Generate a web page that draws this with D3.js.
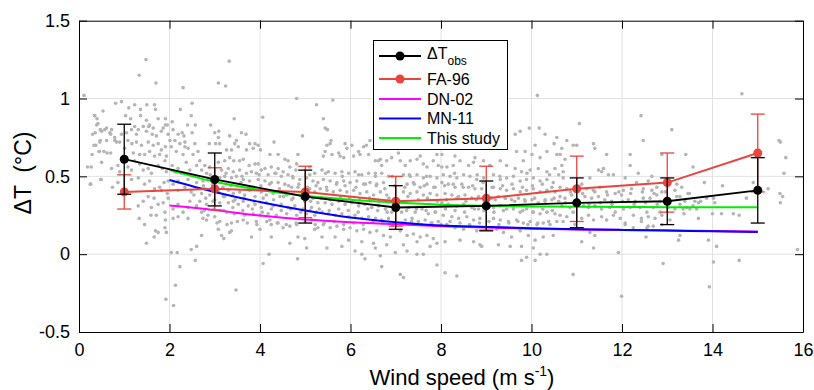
<!DOCTYPE html>
<html>
<head>
<meta charset="utf-8">
<script src="https://d3js.org/d3.v7.min.js"></script>
<style>
body { margin:0; background:#fff; }
text { font-family: "Liberation Sans", Arial, Helvetica, sans-serif; }
</style>
</head>
<body>
<svg id="mainSVG" width="814" height="390"></svg>
<script>

// bin centres and observed / FA-96 values with error bars
var windBins = [1, 3, 5, 7, 9, 11, 13, 15];
var obsDT   = [0.61, 0.48, 0.37, 0.30, 0.31, 0.33, 0.34, 0.41];
var obsErr  = [0.225, 0.17, 0.17, 0.14, 0.16, 0.16, 0.15, 0.21];
var fa96DT  = [0.40, 0.42, 0.40, 0.34, 0.36, 0.42, 0.46, 0.65];
var fa96Err = [0.11, 0.135, 0.165, 0.16, 0.205, 0.21, 0.19, 0.25];

// model curves
var modelWind   = [2, 3, 4, 5, 6, 7, 8, 9, 10, 11, 12, 13, 14, 15];
var dn02DT      = [0.312, 0.283, 0.248, 0.222, 0.205, 0.193, 0.180, 0.171, 0.164, 0.159, 0.155, 0.152, 0.149, 0.146];
var mn11DT      = [0.477, 0.400, 0.335, 0.280, 0.235, 0.205, 0.184, 0.175, 0.167, 0.160, 0.156, 0.152, 0.147, 0.143];
var thisStudyDT = [0.540, 0.465, 0.413, 0.375, 0.350, 0.332, 0.318, 0.311, 0.307, 0.305, 0.303, 0.302, 0.302, 0.302];

var xTicks = [0, 2, 4, 6, 8, 10, 12, 14, 16];
var yTicks = [-0.5, 0, 0.5, 1, 1.5];

var cloudA = [[1.48,1.25],[1.33,1.15],[1.70,1.10],[2.30,1.07],[0.11,1.02],[0.81,0.97],[0.94,0.98],[1.10,0.94],[1.23,0.96],[1.36,0.93],[1.50,0.96],[1.67,0.96],[1.69,0.93],[2.24,0.93],[2.50,0.97],
[0.35,0.89],[0.40,0.87],[0.53,0.92],[1.03,0.89],[1.14,0.87],[1.36,0.89],[1.49,0.86],[1.56,0.83],[1.75,0.87],[1.91,0.87],[1.95,0.83],[2.06,0.85],[2.40,0.83],[2.57,0.83],[2.48,0.89],
[0.42,0.84],[0.36,0.78],[0.50,0.79],[0.61,0.81],[0.72,0.80],[0.70,0.77],[0.79,0.75],[0.83,0.72],[0.94,0.77],[1.05,0.78],[1.16,0.80],[1.23,0.82],[1.31,0.80],[1.27,0.77],[1.42,0.82],[1.49,0.79],[1.54,0.82],[1.64,0.81],[1.62,0.77],[1.71,0.76],[1.82,0.79],[1.86,0.81],[1.91,0.83],[1.97,0.77],[2.08,0.80],[2.19,0.77],[2.28,0.78],[2.32,0.76],[2.12,0.73],[2.01,0.73],[2.34,0.72],[2.50,0.78],[2.56,0.71],
[0.33,0.70],[0.46,0.72],[0.61,0.73],[0.79,0.73],[0.90,0.72],[1.08,0.73],[1.17,0.71],[1.27,0.72],[1.38,0.70],[1.53,0.72],[1.64,0.70],[1.75,0.71],[1.82,0.67],[1.91,0.69],[2.04,0.69],[2.15,0.66],[2.23,0.71],[2.34,0.69],[2.30,0.64],[2.41,0.68],[2.52,0.64],[2.63,0.66],
[0.29,0.64],[0.44,0.66],[0.55,0.66],[0.70,0.65],[1.01,0.68],[1.20,0.65],[1.34,0.64],[1.45,0.64],[1.56,0.66],[1.67,0.63],[1.78,0.64],[1.93,0.63],
[0.19,0.56],[0.27,0.56],[0.50,0.59],[0.72,0.55],[0.86,0.57],[0.90,0.53],[1.08,0.56],[1.16,0.54],[1.34,0.58],[1.42,0.54],[1.53,0.55],[1.60,0.52],[1.75,0.57],[1.84,0.55],[1.93,0.53],[2.06,0.57],[2.19,0.55],[2.26,0.52],[2.37,0.59],[2.45,0.54],[2.60,0.57],[2.12,0.53],[1.90,0.60],[1.23,0.60],
[0.26,0.45],[0.48,0.48],[0.74,0.43],[0.86,0.46],[1.16,0.48],[1.31,0.49],[1.45,0.45],[1.56,0.47],[1.67,0.42],[1.78,0.43],[1.88,0.46],[1.97,0.47],[2.08,0.45],[2.19,0.41],[2.34,0.43],[2.48,0.40],[2.60,0.46],[2.19,0.47],[2.41,0.48],[1.82,0.41],[1.95,0.39],
[1.31,0.31],[1.42,0.34],[1.53,0.37],[1.66,0.36],[1.75,0.32],[1.86,0.33],[1.97,0.36],[2.08,0.29],[2.19,0.32],[2.30,0.27],[2.45,0.34],[2.54,0.38],[2.41,0.30],[2.60,0.31],[1.60,0.30],[1.90,0.27],
[1.33,0.23],[1.45,0.19],[1.59,0.25],[1.71,0.25],[1.91,0.22],[2.08,0.23],[2.19,0.24],[2.41,0.23],[1.90,0.17],[1.93,0.14],[1.75,0.14],[1.66,0.11],[1.69,0.15],[1.49,0.07],[2.60,0.05],[2.48,0.03],[2.04,0.01],[2.17,0.01],[2.57,-0.04],[2.23,-0.08],[2.13,-0.20],[1.92,-0.29],[2.09,-0.33],
[0.34,0.89],[0.39,0.83],[0.47,0.80],[0.37,0.70],[0.47,0.73],[0.45,0.66],[0.49,0.48],[0.62,0.65],[0.57,0.80],[0.25,0.45],[0.68,0.78],[0.30,0.77]];

var cloudB = [[3.32,1.24],[3.08,1.10],[3.24,1.08],[4.81,1.00],[5.25,0.96],[4.06,0.88],[3.43,0.87],[2.91,0.83],[3.00,0.78],[3.09,0.79],[3.08,0.75],[3.59,0.78],[3.69,0.77],[3.33,0.76],[3.48,0.73],[3.44,0.71],[2.88,0.71],[3.02,0.71],[3.11,0.71],[3.77,0.71],[3.89,0.71],[3.96,0.70],[4.31,0.72],
[3.26,0.67],[3.37,0.67],[3.52,0.69],[3.70,0.67],[3.85,0.68],[4.01,0.67],[4.22,0.64],[4.40,0.64],[4.55,0.61],[4.62,0.60],[4.84,0.64],[4.94,0.76],[4.81,0.58],
[2.67,0.60],[2.78,0.57],[2.89,0.56],[3.08,0.59],[3.22,0.60],[3.33,0.62],[3.42,0.60],[3.55,0.60],[3.63,0.61],[3.76,0.57],[3.89,0.58],[3.96,0.58],[4.11,0.55],[4.25,0.56],[4.40,0.55],[4.51,0.53],[4.66,0.56],[4.79,0.54],[5.21,0.52],[5.10,0.56],
[2.71,0.54],[2.82,0.52],[3.15,0.54],[3.30,0.55],[3.41,0.53],[3.55,0.54],[3.70,0.52],[3.81,0.53],[3.92,0.52],[4.03,0.54],[4.18,0.51],[4.33,0.52],[4.47,0.50],[4.62,0.51],[4.73,0.49],[4.88,0.48],[5.03,0.49],[5.17,0.47],[5.28,0.46],
[2.74,0.47],[2.85,0.48],[3.11,0.49],[3.22,0.50],[3.37,0.49],[3.48,0.50],[3.63,0.48],[3.77,0.47],[3.96,0.48],[4.11,0.47],[4.25,0.46],[4.40,0.46],[4.55,0.45],[4.70,0.43],[4.84,0.43],[5.10,0.42],[5.21,0.40],
[2.78,0.42],[2.71,0.39],[2.89,0.38],[3.08,0.40],[3.19,0.37],[3.30,0.41],[3.41,0.39],[3.55,0.40],[3.66,0.38],[3.77,0.41],[3.89,0.37],[4.03,0.40],[4.14,0.38],[4.29,0.39],[4.44,0.37],[4.59,0.38],[4.73,0.36],[4.88,0.38],[4.99,0.34],[5.17,0.36],[5.28,0.33],
[2.67,0.34],[2.82,0.32],[2.96,0.34],[3.11,0.33],[3.30,0.33],[3.41,0.34],[3.52,0.32],[3.63,0.34],[3.74,0.31],[3.89,0.32],[4.03,0.30],[4.14,0.33],[4.29,0.31],[4.47,0.32],[4.62,0.30],[4.77,0.31],[4.95,0.29],[5.14,0.30],[5.25,0.27],
[2.71,0.27],[2.85,0.25],[3.00,0.24],[3.26,0.27],[3.44,0.26],[3.66,0.25],[3.85,0.26],[4.00,0.25],[4.18,0.26],[4.36,0.25],[4.59,0.26],[4.81,0.25],[5.03,0.26],[5.21,0.25],
[2.74,0.23],[2.82,0.22],[3.11,0.21],[3.37,0.20],[3.63,0.22],[3.92,0.21],[4.22,0.22],[4.25,0.19],[4.40,0.20],[4.51,0.17],[4.66,0.18],[4.81,0.19],[5.14,0.22],[5.21,0.16],[5.28,0.17],
[3.08,0.16],[3.15,0.12],[3.20,0.10],[3.37,0.15],[3.33,0.14],[3.81,0.11],[4.00,0.16],[4.25,0.11],[4.66,0.07],[4.84,0.11],[4.99,0.10],[5.03,0.04],[2.71,0.12],[4.20,0.00],[4.07,-0.06],[4.83,-0.03],[3.47,-0.23]];

var cloudC = [[5.61,0.99],[5.40,0.87],[5.44,0.81],[5.49,0.80],[5.57,0.73],[5.55,0.71],[5.48,0.70],[5.44,0.66],[5.40,0.63],[5.59,0.64],[5.74,0.65],[5.77,0.63],[5.85,0.62],[5.88,0.71],[5.92,0.68],[6.03,0.70],[6.07,0.63],[6.18,0.66],[6.21,0.64],[6.29,0.69],[6.35,0.70],[6.40,0.64],[6.43,0.73],
[6.55,0.60],[6.62,0.60],[6.66,0.61],[6.69,0.57],[6.80,0.60],[6.91,0.62],[7.06,0.65],[7.10,0.60],[7.21,0.57],[7.32,0.60],[7.47,0.61],[7.54,0.63],[7.61,0.58],[7.69,0.56],[7.83,0.60],[7.94,0.57],[7.91,0.64],
[5.37,0.54],[5.51,0.53],[5.66,0.52],[5.81,0.53],[5.96,0.52],[6.10,0.53],[6.25,0.51],[6.40,0.52],[6.55,0.50],[6.69,0.52],[6.84,0.50],[7.17,0.51],[7.32,0.50],[7.47,0.51],[7.61,0.49],[7.76,0.50],[7.91,0.49],
[5.40,0.48],[5.55,0.47],[5.70,0.46],[5.85,0.47],[5.99,0.46],[6.14,0.47],[6.29,0.45],[6.43,0.46],[6.58,0.45],[6.73,0.46],[7.25,0.45],[7.39,0.46],[7.54,0.43],[7.69,0.45],[7.87,0.43],
[5.33,0.42],[5.48,0.41],[5.62,0.40],[5.77,0.41],[5.92,0.40],[6.07,0.41],[6.21,0.39],[6.36,0.40],[6.51,0.38],[6.66,0.40],[6.80,0.38],[7.17,0.40],[7.32,0.39],[7.47,0.40],[7.61,0.38],[7.76,0.39],[7.91,0.38],
[5.44,0.33],[5.59,0.32],[5.74,0.34],[5.88,0.32],[6.03,0.33],[6.18,0.31],[6.32,0.32],[6.47,0.30],[6.62,0.31],[6.77,0.29],[6.91,0.27],[7.13,0.27],[7.28,0.30],[7.43,0.27],[7.58,0.29],[7.72,0.26],[7.87,0.27],
[5.37,0.27],[5.51,0.26],[5.66,0.25],[5.81,0.26],[5.96,0.24],[6.10,0.25],[6.25,0.23],[6.40,0.24],[6.55,0.23],[6.69,0.22],[6.84,0.23],[7.21,0.22],[7.36,0.23],[7.50,0.21],[7.65,0.22],[7.80,0.20],[7.94,0.21],
[5.40,0.19],[5.55,0.17],[5.70,0.18],[5.85,0.16],[5.99,0.17],[6.14,0.15],[6.29,0.16],[6.43,0.14],[6.58,0.15],[6.73,0.12],[6.88,0.11],[7.10,0.15],[7.25,0.12],[7.39,0.13],[7.54,0.11],[7.69,0.12],[7.83,0.10],
[5.37,0.11],[5.66,0.11],[5.96,0.09],[6.25,0.08],[6.51,0.07],[6.80,0.06],[7.17,0.06],[7.47,0.08],[7.76,0.05],[7.91,0.07],
[5.48,0.04],[5.81,0.05],[6.10,0.02],[6.25,0.00],[6.32,-0.03],[6.55,0.04],[6.66,-0.01],[6.99,0.01],[7.25,0.02],[7.47,0.00],[7.91,-0.07],[6.69,-0.08],[7.10,-0.13],[7.17,-0.15],[7.61,0.00]];

var cloudD = [[10.13,1.02],[9.75,0.79],[9.95,0.81],[10.17,0.81],[9.64,0.77],[9.67,0.66],[10.30,0.77],[10.56,0.75],[10.50,0.71],[10.08,0.70],[9.86,0.66],[10.01,0.64],[10.19,0.62],[9.82,0.60],[10.34,0.66],[10.56,0.64],
[8.02,0.64],[8.31,0.63],[8.42,0.60],[8.61,0.57],[8.72,0.59],[8.75,0.62],[8.27,0.57],[8.13,0.56],[8.02,0.56],[8.94,0.60],[9.31,0.60],[9.08,0.57],[9.45,0.57],[9.64,0.55],[9.78,0.53],[9.97,0.54],[10.15,0.55],[10.34,0.53],[10.52,0.55],[10.60,0.51],
[8.05,0.51],[8.20,0.50],[8.35,0.49],[8.50,0.51],[8.64,0.50],[8.79,0.48],[8.94,0.49],[9.16,0.51],[9.31,0.48],[9.45,0.49],[9.60,0.50],[9.75,0.47],[9.89,0.48],[10.04,0.49],[10.19,0.47],[10.34,0.48],[10.48,0.46],
[8.02,0.46],[8.16,0.45],[8.31,0.43],[8.46,0.45],[8.61,0.43],[8.75,0.42],[8.90,0.42],[9.16,0.43],[9.31,0.42],[9.45,0.41],[9.60,0.42],[9.75,0.40],[9.89,0.41],[10.04,0.42],[10.19,0.40],[10.34,0.41],[10.52,0.40],
[8.09,0.39],[8.24,0.38],[8.39,0.37],[8.53,0.38],[8.68,0.36],[8.83,0.37],[9.12,0.36],[9.27,0.37],[9.42,0.36],[9.56,0.35],[9.71,0.36],[9.86,0.34],[10.01,0.35],[10.15,0.33],[10.30,0.34],[10.45,0.35],[10.60,0.34],
[8.02,0.33],[8.16,0.32],[8.35,0.31],[8.50,0.32],[8.68,0.30],[8.83,0.29],[9.16,0.30],[9.31,0.31],[9.45,0.29],[9.60,0.30],[9.75,0.27],[9.89,0.29],[10.04,0.27],[10.19,0.26],[10.34,0.27],[10.52,0.26],
[8.05,0.25],[8.24,0.24],[8.39,0.23],[8.57,0.24],[8.72,0.22],[8.86,0.23],[9.16,0.23],[9.31,0.22],[9.49,0.21],[9.67,0.22],[9.82,0.20],[9.97,0.21],[10.12,0.19],[10.26,0.20],[10.41,0.19],[10.56,0.21],
[8.13,0.19],[8.31,0.17],[8.50,0.16],[8.64,0.18],[8.79,0.15],[9.23,0.16],[9.38,0.14],[9.56,0.11],[9.75,0.15],[9.93,0.12],[10.08,0.09],[10.26,0.11],[10.48,0.12],
[8.09,0.08],[8.42,0.09],[8.72,0.08],[8.90,0.05],[9.27,0.06],[9.53,0.05],[9.78,0.05],[10.04,0.04],[10.19,0.00],[10.34,0.00],[9.89,-0.02],[9.78,-0.04],[10.08,-0.04],[8.09,-0.12],[8.35,-0.14],[8.86,0.06]];

var cloudE = [[12.42,0.89],[11.06,0.84],[13.10,0.80],[12.47,0.73],[10.78,0.73],[10.92,0.70],[11.00,0.70],[11.37,0.71],[11.40,0.68],[10.67,0.68],[10.63,0.64],[10.74,0.61],[10.67,0.57],[10.70,0.53],[11.66,0.64],[12.18,0.64],[12.88,0.64],
[11.59,0.55],[11.48,0.54],[11.55,0.53],[12.18,0.57],[12.36,0.52],[12.66,0.50],[11.70,0.51],[11.81,0.51],[10.70,0.49],[11.29,0.49],[12.07,0.49],[12.58,0.47],[13.06,0.47],[13.21,0.45],
[10.63,0.43],[10.78,0.42],[11.11,0.45],[11.22,0.42],[11.37,0.41],[11.51,0.43],[11.66,0.40],[11.85,0.39],[12.03,0.41],[12.21,0.42],[12.32,0.46],[12.47,0.42],[12.66,0.41],[12.77,0.43],[12.88,0.40],[13.17,0.41],
[10.63,0.37],[10.74,0.36],[10.89,0.38],[11.18,0.37],[11.33,0.36],[11.48,0.37],[11.62,0.35],[11.77,0.34],[11.99,0.38],[12.14,0.35],[12.29,0.34],[12.47,0.36],[12.62,0.36],[12.77,0.38],[12.84,0.34],[13.21,0.37],
[10.67,0.31],[10.85,0.30],[11.15,0.31],[11.26,0.30],[11.40,0.31],[11.55,0.29],[11.73,0.30],[11.85,0.27],[12.03,0.29],[12.18,0.30],[12.40,0.30],[12.55,0.27],[12.69,0.30],[12.84,0.27],[13.02,0.30],[13.17,0.29],
[10.63,0.25],[10.78,0.24],[10.92,0.27],[11.11,0.23],[11.26,0.25],[11.37,0.22],[11.55,0.24],[11.66,0.22],[11.81,0.25],[11.96,0.23],[12.07,0.20],[12.25,0.25],[12.43,0.23],[12.58,0.24],[12.73,0.23],[12.88,0.25],[13.06,0.22],
[10.70,0.21],[10.96,0.19],[11.15,0.16],[11.29,0.14],[11.40,0.12],[12.07,0.19],[12.25,0.17],[12.43,0.21],[12.58,0.18],[12.69,0.18],[12.88,0.19],[12.53,0.11],[13.25,0.09],[11.11,0.08],[11.37,0.04],[11.92,0.01],[12.91,-0.06],[10.92,-0.13],[11.99,-0.27],[12.55,0.17]];

var cloudF = [[14.65,1.03],[13.41,0.64],[13.57,0.56],[15.47,0.73],[15.50,0.72],[15.62,0.62],[15.58,0.52],[13.82,0.46],[14.22,0.44],[14.90,0.46],[15.23,0.42],[15.49,0.39],[15.55,0.37],[15.50,0.33],
[13.32,0.43],[13.46,0.39],[13.49,0.39],[13.28,0.37],[13.39,0.34],[13.61,0.34],[13.69,0.33],[13.74,0.34],[13.87,0.36],[14.02,0.36],[14.05,0.33],[13.43,0.30],[13.57,0.31],[13.65,0.29],[13.35,0.29],[13.37,0.26],
[13.69,0.23],[14.00,0.26],[14.20,0.26],[14.46,0.26],[14.59,0.25],[14.75,0.36],[13.28,0.12],[13.91,0.09],[14.09,0.05],[14.02,-0.05],[14.59,-0.04],[13.93,-0.21],[15.88,0.03],[13.28,0.32],[13.50,0.29]];

// extra samples in the crowded core of the cloud
var cloudCore = [[2.75,0.44],[2.95,0.45],[3.18,0.43],[3.36,0.44],[3.58,0.46],[3.79,0.43],[4.02,0.44],[4.21,0.45],[4.43,0.42],[4.63,0.44],[4.86,0.45],[5.05,0.43],[5.24,0.44],[5.47,0.43],[5.69,0.45],[5.88,0.44],[6.12,0.43],[6.33,0.45],[6.57,0.44],[6.76,0.42],[6.98,0.44],[7.20,0.43],[7.41,0.45],[7.63,0.44],[7.84,0.43],[8.08,0.44],[8.27,0.45],[8.49,0.43],[8.70,0.44],[8.93,0.46],[9.13,0.43],[9.36,0.44],[9.57,0.45],[9.80,0.43],[10.02,0.44],[10.24,0.45],[10.45,0.43],
[2.80,0.36],[3.00,0.35],[3.22,0.37],[3.45,0.35],[3.65,0.36],[3.87,0.34],[4.07,0.36],[4.30,0.35],[4.52,0.37],[4.70,0.35],[4.93,0.36],[5.12,0.34],[5.35,0.36],[5.55,0.35],[5.78,0.37],[5.98,0.36],[6.20,0.35],[6.42,0.36],[6.63,0.34],[6.85,0.36],[7.05,0.35],[7.27,0.37],[7.50,0.35],[7.70,0.36],[7.92,0.34],[8.12,0.35],[8.35,0.36],[8.55,0.34],[8.78,0.35],[8.98,0.37],[9.20,0.35],[9.42,0.36],[9.63,0.34],[9.85,0.35],[10.07,0.36],[10.30,0.35],[10.50,0.36],
[2.77,0.28],[2.98,0.29],[3.20,0.28],[3.40,0.30],[3.62,0.28],[3.83,0.29],[4.05,0.27],[4.25,0.29],[4.47,0.28],[4.68,0.29],[4.90,0.27],[5.10,0.28],[5.31,0.29],[5.53,0.28],[5.74,0.29],[5.95,0.28],[6.17,0.27],[6.38,0.29],[6.60,0.28],[6.81,0.27],[7.03,0.29],[7.24,0.28],[7.46,0.29],[7.67,0.28],[7.88,0.27],[8.10,0.29],[8.31,0.28],[8.52,0.27],[8.74,0.29],[8.95,0.28],[9.17,0.27],[9.38,0.28],[9.60,0.29],[9.81,0.28],[10.03,0.27],[10.25,0.29],[10.46,0.28],
[3.05,0.20],[3.27,0.19],[3.50,0.21],[3.72,0.20],[3.93,0.19],[4.15,0.21],[4.38,0.20],[4.58,0.19],[4.80,0.20],[5.00,0.21],[5.22,0.19],[5.42,0.20],[5.64,0.21],[5.85,0.19],[6.07,0.20],[6.28,0.19],[6.50,0.21],[6.71,0.20],[6.93,0.19],[7.14,0.20],[7.35,0.21],[7.57,0.19],[7.78,0.20],[8.00,0.19],[8.20,0.21],[8.42,0.20],[8.63,0.19],[8.85,0.20],[9.06,0.21],[9.28,0.19],[9.50,0.20],[9.70,0.21],[9.92,0.19],[10.14,0.20],[10.38,0.21],
[2.90,0.51],[3.25,0.52],[3.60,0.50],[3.98,0.51],[4.35,0.52],[4.72,0.50],[5.10,0.51],[5.45,0.52],[5.82,0.50],[6.18,0.51],[6.55,0.52],[6.92,0.50],[7.30,0.51],[7.68,0.50],[8.30,0.52],[8.80,0.51],[9.30,0.50],[9.90,0.52],[10.40,0.51],
[10.75,0.33],[11.02,0.34],[11.27,0.32],[11.52,0.33],[11.78,0.32],[12.01,0.34],[12.27,0.32],[12.52,0.33],[12.78,0.32],[13.01,0.34],
[10.86,0.40],[11.13,0.39],[11.40,0.40],[11.68,0.38],[11.93,0.40],[12.19,0.39],[12.45,0.40],[12.71,0.39],[12.96,0.40]];

var svg = d3.select("#mainSVG");

var x = d3.scaleLinear().domain([0, 16]).range([79, 803]);
var y = d3.scaleLinear().domain([-0.5, 1.5]).range([332, 20.7]);

//grid
svg.append("g").selectAll("line").data(xTicks.slice(1, -1)).enter().append("line")
    .attr("x1", function(d) { return x(d); })
    .attr("x2", function(d) { return x(d); })
    .attr("y1", y(-0.5))
    .attr("y2", y(1.5))
    .attr("stroke", "#e2e2e2");
svg.append("g").selectAll("line").data(yTicks.slice(1, -1)).enter().append("line")
    .attr("x1", x(0))
    .attr("x2", x(16))
    .attr("y1", function(d) { return y(d); })
    .attr("y2", function(d) { return y(d); })
    .attr("stroke", "#e2e2e2");

//scatter of all samples
var cloud = cloudA.concat(cloudB, cloudC, cloudD, cloudE, cloudF, cloudCore);
svg.append("g").selectAll("circle").data(cloud).enter().append("circle")
    .attr("cx", function(d) { return x(d[0]); })
    .attr("cy", function(d) { return y(d[1]); })
    .attr("r", 1.8)
    .attr("fill", "#b4b4b4");

//model curves
function drawCurve(vals, color) {
  var line = d3.line()
      .x(function(d, i) { return x(modelWind[i]); })
      .y(function(d) { return y(d); })
      .curve(d3.curveMonotoneX);
  svg.append("path")
      .attr("d", line(vals))
      .attr("fill", "none")
      .attr("stroke", color)
      .attr("stroke-width", 2);
}
drawCurve(dn02DT, "#ff00ff");
drawCurve(mn11DT, "#0000ff");
drawCurve(thisStudyDT, "#00ee00");

//binned series with error bars
function drawBinned(vals, errs, color, width) {
  var g = svg.append("g");
  var line = d3.line()
      .x(function(d, i) { return x(windBins[i]); })
      .y(function(d) { return y(d); });
  g.append("path")
      .attr("d", line(vals))
      .attr("fill", "none")
      .attr("stroke", color)
      .attr("stroke-width", width);
  vals.forEach(function(v, i) {
    var cx = x(windBins[i]);
    g.append("line").attr("x1", cx).attr("x2", cx)
        .attr("y1", y(v - errs[i])).attr("y2", y(v + errs[i]))
        .attr("stroke", color).attr("stroke-width", 1.3);
    [v - errs[i], v + errs[i]].forEach(function(e) {
      g.append("line").attr("x1", cx - 7).attr("x2", cx + 7)
          .attr("y1", y(e)).attr("y2", y(e))
          .attr("stroke", color).attr("stroke-width", 1.3);
    });
  });
  g.selectAll("circle").data(vals).enter().append("circle")
      .attr("cx", function(d, i) { return x(windBins[i]); })
      .attr("cy", function(d) { return y(d); })
      .attr("r", 4.5)
      .attr("fill", color);
}
drawBinned(fa96DT, fa96Err, "#e8453c", 2);
drawBinned(obsDT, obsErr, "#000000", 1.8);

//axes box with inward ticks
var fmt = function(d) { return String(d); };
function styleAxis(g) {
  g.attr("font-size", 18).attr("font-family", "Liberation Sans, Arial, sans-serif");
  g.selectAll("path, line").attr("stroke", "#000");
  g.selectAll("text").attr("fill", "#000");
}
svg.append("g").attr("transform", "translate(0," + y(-0.5) + ")")
    .call(d3.axisBottom(x).tickValues(xTicks).tickFormat(fmt).tickSizeInner(-8).tickSizeOuter(0).tickPadding(11))
    .call(styleAxis);
svg.append("g").attr("transform", "translate(0," + y(1.5) + ")")
    .call(d3.axisTop(x).tickValues(xTicks).tickFormat("").tickSizeInner(-8).tickSizeOuter(0))
    .call(styleAxis);
svg.append("g").attr("transform", "translate(" + x(0) + ",0)")
    .call(d3.axisLeft(y).tickValues(yTicks).tickFormat(fmt).tickSizeInner(-8).tickSizeOuter(0).tickPadding(9))
    .call(styleAxis);
svg.append("g").attr("transform", "translate(" + x(16) + ",0)")
    .call(d3.axisRight(y).tickValues(yTicks).tickFormat("").tickSizeInner(-8).tickSizeOuter(0))
    .call(styleAxis);

//axis labels
var xLab = svg.append("text")
    .attr("x", 462)
    .attr("y", 385)
    .attr("font-size", 22)
    .attr("text-anchor", "middle")
    .text("Wind speed (m s");
xLab.append("tspan").attr("dy", -9).attr("font-size", 14).text("-1");
xLab.append("tspan").attr("dy", 9).text(")");

svg.append("text")
    .attr("transform", "translate(31,173) rotate(-90)")
    .attr("font-size", 23)
    .attr("text-anchor", "middle")
    .style("white-space", "pre")
    .text("\u0394T  (\u00B0C)");

//legend
var legend = svg.append("g");
legend.append("rect")
    .attr("x", 373.5).attr("y", 40.5)
    .attr("width", 134).attr("height", 109)
    .attr("fill", "#fff").attr("stroke", "#000");

var legendItems = [
  {name: "obs", color: "#000000", marker: true, rowY: 56},
  {name: "FA-96", color: "#e8453c", marker: true, rowY: 79},
  {name: "DN-02", color: "#ff00ff", marker: false, rowY: 99},
  {name: "MN-11", color: "#0000ff", marker: false, rowY: 118.5},
  {name: "This study", color: "#00ee00", marker: false, rowY: 138}
];
legendItems.forEach(function(it) {
  legend.append("line")
      .attr("x1", 379).attr("x2", 421)
      .attr("y1", it.rowY).attr("y2", it.rowY)
      .attr("stroke", it.color).attr("stroke-width", 2);
  if (it.marker) {
    legend.append("circle").attr("cx", 400).attr("cy", it.rowY).attr("r", 4.5).attr("fill", it.color);
  }
  if (it.name == "obs") {
    var t = legend.append("text").attr("x", 427).attr("y", it.rowY + 2.5).attr("font-size", 16).text("\u0394T");
    t.append("tspan").attr("dy", 6.5).attr("font-size", 12).text("obs");
  } else {
    legend.append("text").attr("x", 427).attr("y", it.rowY + 5.8).attr("font-size", 16).text(it.name);
  }
});

</script>
</body>
</html>
